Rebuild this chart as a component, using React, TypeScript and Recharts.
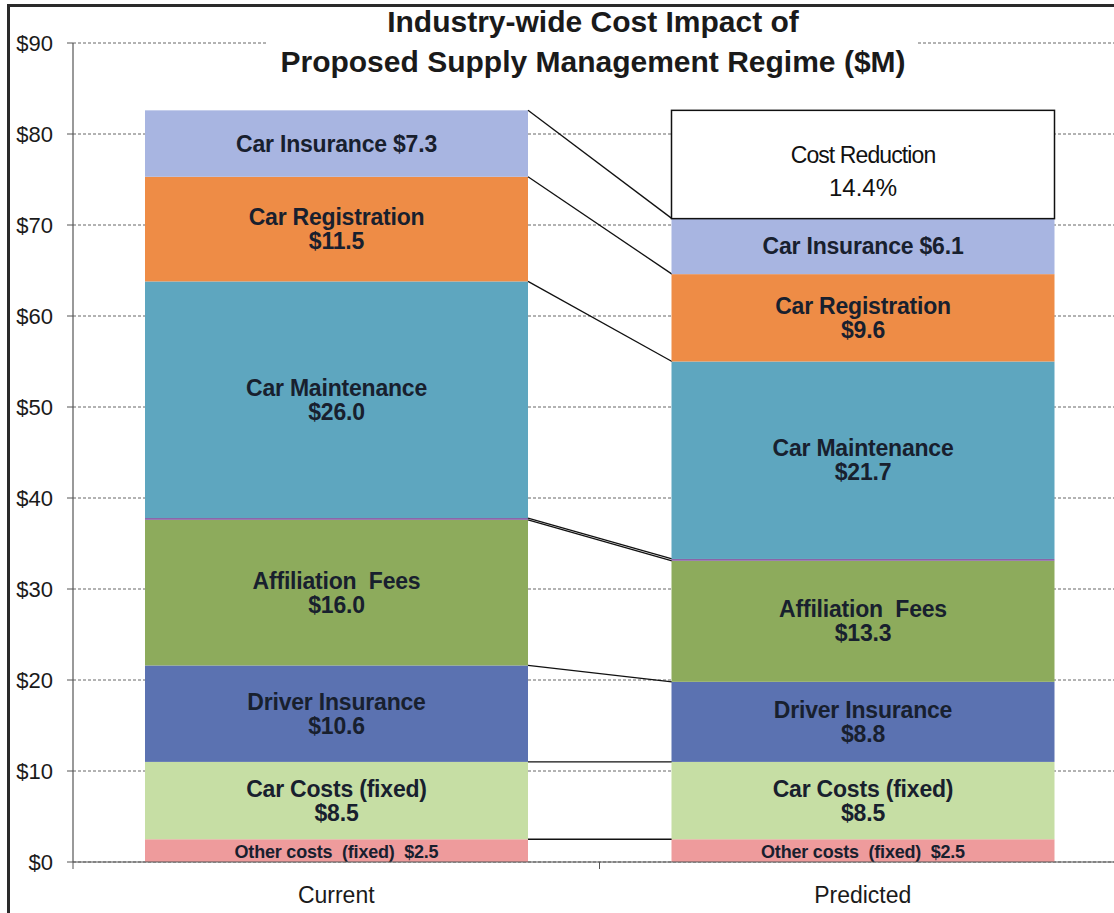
import React from "react";
import { BarChart, Bar, XAxis, YAxis, CartesianGrid } from "recharts";

const categories = ["Current", "Predicted"];
const otherCosts = [2.5, 2.5];
const carCosts = [8.5, 8.5];
const driverInsurance = [10.6, 8.8];
const affiliationFees = [16.0, 13.3];
const feeDivider = [0.2, 0.2];
const carMaintenance = [26.0, 21.7];
const carRegistration = [11.5, 9.6];
const carInsurance = [7.3, 6.1];
const costReduction = [0, 11.9];
const costReductionPct = "14.4%";
const yTicks = [0, 10, 20, 30, 40, 50, 60, 70, 80, 90];

const CHART_W = 1126;
const CHART_H = 913;
const Y_W = 73;
const GAP = 72; // px each side of a bar inside its band
const FONT = "'Liberation Sans', Arial, sans-serif";

type LabelKind = "none" | "inline" | "small" | "two" | "box";

interface SeriesDef {
  key: string;
  name: string;
  values: number[];
  color: string;
  label: LabelKind;
  connector: boolean;
}

const seriesList: SeriesDef[] = [
  { key: "other", name: "Other costs  (fixed)", values: otherCosts, color: "#ee9b9c", label: "small", connector: true },
  { key: "carCosts", name: "Car Costs (fixed)", values: carCosts, color: "#c6dea4", label: "two", connector: true },
  { key: "driver", name: "Driver Insurance", values: driverInsurance, color: "#5b72b1", label: "two", connector: true },
  { key: "affiliation", name: "Affiliation  Fees", values: affiliationFees, color: "#8dab5c", label: "two", connector: true },
  { key: "divider", name: "", values: feeDivider, color: "#8a64a8", label: "none", connector: true },
  { key: "maintenance", name: "Car Maintenance", values: carMaintenance, color: "#5ea6bf", label: "two", connector: true },
  { key: "registration", name: "Car Registration", values: carRegistration, color: "#ee8c46", label: "two", connector: true },
  { key: "insurance", name: "Car Insurance", values: carInsurance, color: "#a8b5e1", label: "inline", connector: true },
  { key: "reduction", name: "Cost Reduction", values: costReduction, color: "#ffffff", label: "box", connector: false },
];

const data = categories.map((name, i) => {
  const row: Record<string, string | number> = { name };
  seriesList.forEach((s) => (row[s.key] = s.values[i]));
  return row;
});

const cumBelow = (sIdx: number, i: number) =>
  seriesList.slice(0, sIdx).reduce((acc, s) => acc + s.values[i], 0);

const money = (v: number) => `$${v.toFixed(1)}`;

const labelStyle = {
  fontFamily: FONT,
  fontWeight: 700,
  fill: "#18202e",
  letterSpacing: -0.2,
  whiteSpace: "pre" as const,
};

function makeShape(s: SeriesDef, sIdx: number) {
  return (props: any) => {
    const { x, y, width, height, index } = props;
    const v = s.values[index];
    if (!v || !height || height <= 0) return <g />;
    const k = height / v;
    const base = cumBelow(sIdx, index);
    const yOf = (val: number) => y + height - (val - base) * k;
    const cx = x + width / 2;
    const cy = y + height / 2;

    let connector = null;
    if (s.connector && index === 0) {
      const nextTop = cumBelow(sIdx, 1) + s.values[1];
      connector = (
        <line
          x1={x + width}
          y1={y}
          x2={x + width + 2 * GAP}
          y2={yOf(nextTop)}
          stroke="#111"
          strokeWidth={1.3}
        />
      );
    }

    let label = null;
    if (s.label === "inline") {
      label = (
        <text x={cx} y={cy} textAnchor="middle" dominantBaseline="central" fontSize={23} style={labelStyle}>
          {`${s.name} ${money(v)}`}
        </text>
      );
    } else if (s.label === "small") {
      label = (
        <text x={cx} y={cy + 1} textAnchor="middle" dominantBaseline="central" fontSize={18} style={labelStyle}>
          {`${s.name}  ${money(v)}`}
        </text>
      );
    } else if (s.label === "two") {
      label = (
        <g>
          <text x={cx} y={cy - 12} textAnchor="middle" dominantBaseline="central" fontSize={23} style={labelStyle}>
            {s.name}
          </text>
          <text x={cx} y={cy + 12} textAnchor="middle" dominantBaseline="central" fontSize={23} style={labelStyle}>
            {money(v)}
          </text>
        </g>
      );
    } else if (s.label === "box") {
      label = (
        <g style={{ fontFamily: FONT, fill: "#111" }}>
          <text x={cx} y={cy - 9} textAnchor="middle" dominantBaseline="central" fontSize={23} letterSpacing={-0.9}>
            {s.name}
          </text>
          <text x={cx} y={cy + 23} textAnchor="middle" dominantBaseline="central" fontSize={24}>
            {costReductionPct}
          </text>
        </g>
      );
    }

    const isBox = s.label === "box";
    return (
      <g>
        <rect
          x={x}
          y={y}
          width={width}
          height={height}
          fill={s.color}
          stroke={isBox ? "#111" : "none"}
          strokeWidth={isBox ? 1.5 : 0}
        />
        {connector}
        {label}
      </g>
    );
  };
}

const band = (CHART_W - Y_W) / categories.length;

const CategoryTick = (props: any) => {
  const { x, y, payload } = props;
  return (
    <g>
      <line x1={x - band / 2} y1={y} x2={x - band / 2} y2={y + 7} stroke="#555" />
      <line x1={x + band / 2} y1={y} x2={x + band / 2} y2={y + 7} stroke="#555" />
      <text x={x} y={y + 41} textAnchor="middle" fontSize={23} fill="#1a1a1a" style={{ fontFamily: FONT }}>
        {payload.value}
      </text>
    </g>
  );
};

export default function App() {
  return (
    <div
      style={{
        position: "relative",
        width: 1114,
        height: 913,
        overflow: "hidden",
        background: "#fff",
        fontFamily: FONT,
      }}
    >
      <style>{`body{margin:0}`}</style>
      <div style={{ position: "absolute", left: 0, top: 0 }}>
        <BarChart
          width={CHART_W}
          height={CHART_H}
          data={data}
          margin={{ top: 43, right: 0, left: 0, bottom: 11 }}
          barCategoryGap={GAP}
        >
          <CartesianGrid vertical={false} stroke="#666" strokeDasharray="3 2" />
          <XAxis
            dataKey="name"
            height={40}
            tickLine={false}
            tickSize={0}
            tickMargin={0}
            axisLine={{ stroke: "#555", strokeWidth: 1.2 }}
            tick={<CategoryTick />}
          />
          <YAxis
            width={Y_W}
            domain={[0, 90]}
            ticks={yTicks}
            interval={0}
            tickFormatter={(v: number) => `$${v}`}
            tick={{ fontSize: 22, fill: "#1a1a1a", fontFamily: FONT }}
            tickSize={6}
            tickMargin={14}
            tickLine={{ stroke: "#555" }}
            axisLine={{ stroke: "#555", strokeWidth: 1.2 }}
          />
          {seriesList.map((s, i) => (
            <Bar
              key={s.key}
              dataKey={s.key}
              stackId="cost"
              fill={s.color}
              isAnimationActive={false}
              shape={makeShape(s, i)}
            />
          ))}
        </BarChart>
      </div>
      <div
        style={{
          position: "absolute",
          left: 268,
          top: 2,
          width: 650,
          background: "#fff",
          textAlign: "center",
          fontSize: 30,
          fontWeight: 700,
          lineHeight: "40px",
          color: "#1a1a1a",
        }}
      >
        <div>Industry-wide Cost Impact of</div>
        <div>Proposed Supply Management Regime ($M)</div>
      </div>
      <div
        style={{
          position: "absolute",
          left: 7,
          top: 4,
          width: 1200,
          height: 906,
          borderTop: "3px solid #2a2a2a",
          borderLeft: "3px solid #2a2a2a",
          borderBottom: "1px solid #cfcfcf",
        }}
      />
    </div>
  );
}
